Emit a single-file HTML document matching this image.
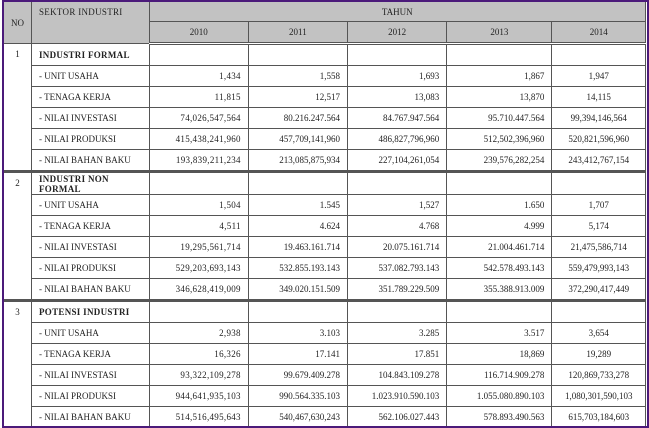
<!DOCTYPE html>
<html><head><meta charset="utf-8">
<style>
html,body{margin:0;padding:0;background:#fff;}
body{width:649px;height:427px;overflow:hidden;position:relative;}
.frame{position:absolute;left:2px;top:0;width:643px;height:424px;border:2px solid #4b1a7a;border-left-width:2px;overflow:hidden;}
table{border-collapse:collapse;table-layout:fixed;font-family:"Liberation Serif","DejaVu Serif",serif;font-size:9px;color:#222;position:absolute;left:-1px;top:-1px;}
td,th{border:1px solid #555;padding:0 7px;white-space:nowrap;overflow:hidden;font-weight:normal;}
td:nth-child(2){letter-spacing:0.3px;}
th{background:#c2c2c2;text-align:center;}
td.n{text-align:right;}
td.c{text-align:center;}
td.no{text-align:center;vertical-align:top;padding-top:5px;letter-spacing:0;}
td.s{font-weight:bold;}
tr.r td{height:20px;}
tr.sep td{border-top:3px solid #555;}
.hdr2 th{border-bottom:3px double #555;}
</style></head>
<body>
<div class="frame">
<table>
<colgroup><col style="width:28px"><col style="width:118px"><col style="width:100px"><col style="width:100px"><col style="width:100px"><col style="width:106px"><col style="width:94px"></colgroup>
<tr style="height:20px">
<th rowspan="2">NO</th>
<th rowspan="2" style="text-align:left;vertical-align:top;padding-top:5px;letter-spacing:0.3px">SEKTOR INDUSTRI</th>
<th colspan="5">TAHUN</th></tr>
<tr class="hdr2" style="height:22px">
<th>2010</th><th>2011</th><th>2012</th><th>2013</th><th>2014</th></tr>

<tr class="r"><td class="no" rowspan="6">1</td><td class="s">INDUSTRI FORMAL</td><td></td><td></td><td></td><td></td><td></td></tr>
<tr class="r"><td>- UNIT USAHA</td><td class="n">1,434</td><td class="n">1,558</td><td class="n">1,693</td><td class="n">1,867</td><td class="c">1,947</td></tr>
<tr class="r"><td>- TENAGA KERJA</td><td class="n">11,815</td><td class="n">12,517</td><td class="n">13,083</td><td class="n">13,870</td><td class="c">14,115</td></tr>
<tr class="r"><td>- NILAI INVESTASI</td><td class="n">74,026,547,564</td><td class="n">80.216.247.564</td><td class="n">84.767.947.564</td><td class="n">95.710.447.564</td><td class="c">99,394,146,564</td></tr>
<tr class="r"><td>- NILAI PRODUKSI</td><td class="n">415,438,241,960</td><td class="n">457,709,141,960</td><td class="n">486,827,796,960</td><td class="n">512,502,396,960</td><td class="c">520,821,596,960</td></tr>
<tr class="r"><td>- NILAI BAHAN BAKU</td><td class="n">193,839,211,234</td><td class="n">213,085,875,934</td><td class="n">227,104,261,054</td><td class="n">239,576,282,254</td><td class="c">243,412,767,154</td></tr>

<tr class="sep" style="height:23px"><td class="no" rowspan="6">2</td><td class="s" style="line-height:10px;white-space:normal">INDUSTRI NON FORMAL</td><td></td><td></td><td></td><td></td><td></td></tr>
<tr class="r"><td>- UNIT USAHA</td><td class="n">1,504</td><td class="n">1.545</td><td class="n">1,527</td><td class="n">1.650</td><td class="c">1,707</td></tr>
<tr class="r"><td>- TENAGA KERJA</td><td class="n">4,511</td><td class="n">4.624</td><td class="n">4.768</td><td class="n">4.999</td><td class="c">5,174</td></tr>
<tr class="r"><td>- NILAI INVESTASI</td><td class="n">19,295,561,714</td><td class="n">19.463.161.714</td><td class="n">20.075.161.714</td><td class="n">21.004.461.714</td><td class="c">21,475,586,714</td></tr>
<tr class="r"><td>- NILAI PRODUKSI</td><td class="n">529,203,693,143</td><td class="n">532.855.193.143</td><td class="n">537.082.793.143</td><td class="n">542.578.493.143</td><td class="c">559,479,993,143</td></tr>
<tr class="r"><td>- NILAI BAHAN BAKU</td><td class="n">346,628,419,009</td><td class="n">349.020.151.509</td><td class="n">351.789.229.509</td><td class="n">355.388.913.009</td><td class="c">372,290,417,449</td></tr>

<tr class="r sep"><td class="no" rowspan="6">3</td><td class="s">POTENSI INDUSTRI</td><td></td><td></td><td></td><td></td><td></td></tr>
<tr class="r"><td>- UNIT USAHA</td><td class="n">2,938</td><td class="n">3.103</td><td class="n">3.285</td><td class="n">3.517</td><td class="c">3,654</td></tr>
<tr class="r"><td>- TENAGA KERJA</td><td class="n">16,326</td><td class="n">17.141</td><td class="n">17.851</td><td class="n">18,869</td><td class="c">19,289</td></tr>
<tr class="r"><td>- NILAI INVESTASI</td><td class="n">93,322,109,278</td><td class="n">99.679.409.278</td><td class="n">104.843.109.278</td><td class="n">116.714.909.278</td><td class="c">120,869,733,278</td></tr>
<tr class="r"><td>- NILAI PRODUKSI</td><td class="n">944,641,935,103</td><td class="n">990.564.335.103</td><td class="n">1.023.910.590.103</td><td class="n">1.055.080.890.103</td><td class="c">1,080,301,590,103</td></tr>
<tr class="r"><td>- NILAI BAHAN BAKU</td><td class="n">514,516,495,643</td><td class="n">540,467,630,243</td><td class="n">562.106.027.443</td><td class="n">578.893.490.563</td><td class="c">615,703,184,603</td></tr>
</table>
</div>
</body></html>
